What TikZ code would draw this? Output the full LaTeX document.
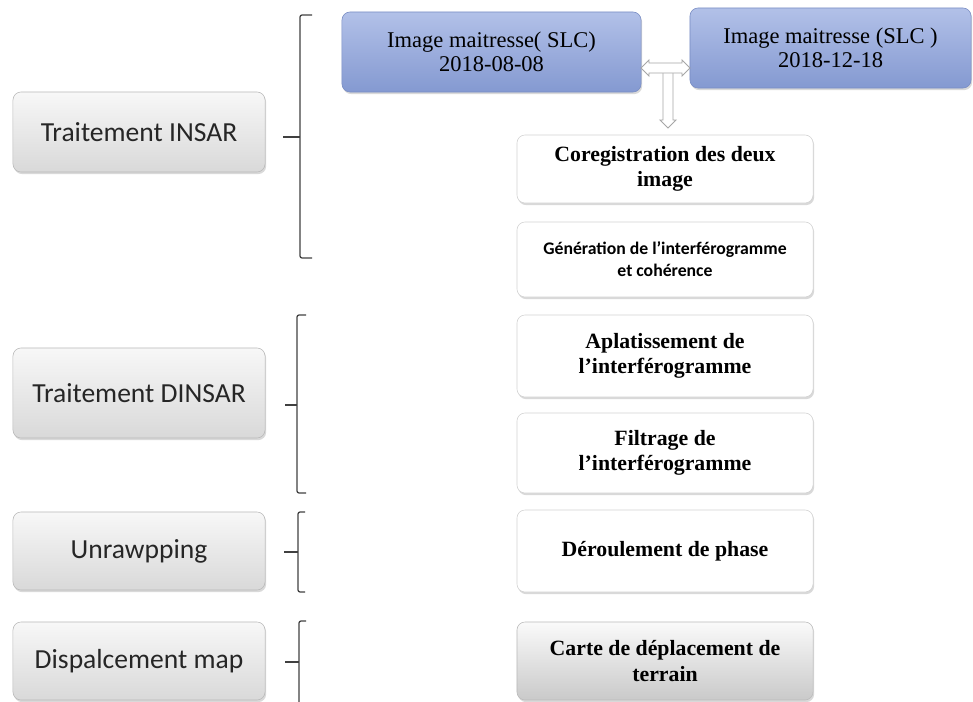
\documentclass[tikz,border=0pt]{standalone}
\usepackage{fontspec}
\setmainfont{Liberation Serif}
\newfontfamily\carlito{Carlito}
\usepackage{tikz}
\usetikzlibrary{shapes.arrows, shadows, positioning}

\definecolor{slctop}{RGB}{178,193,232}
\definecolor{slcbot}{RGB}{132,153,209}
\definecolor{slcedge}{RGB}{120,140,195}

\begin{document}
\begin{tikzpicture}[x=0.025cm, y=-0.025cm,
    box/.style={rectangle, rounded corners=0.2cm, align=center, inner sep=2pt, drop shadow={shadow xshift=0.8pt, shadow yshift=-1.5pt, opacity=0.3}},
    stage/.style={box, draw=gray!55, top color=gray!6, bottom color=gray!30, minimum width=6.3cm, font=\carlito\fontsize{19.6}{23}\selectfont, text=black!85},
    slc/.style={box, draw=slcedge, top color=slctop, bottom color=slcbot, minimum height=2cm, font=\fontsize{16}{17.5}\selectfont},
    task/.style={box, draw=gray!35, fill=white, minimum width=7.4cm, font=\bfseries\fontsize{15.5}{18}\selectfont},
    result/.style={task, draw=gray!55, top color=gray!4, bottom color=gray!42},
    brk/.style={draw=black!75, line width=0.9pt, rounded corners=1.5pt},
    hollow/.style={draw=gray!70, fill=white, line width=0.6pt, inner sep=0.09cm}
]
\useasboundingbox (0,0) rectangle (973,702);

% left column
\node[stage, minimum height=2cm] (insar) at (139,132) {Traitement INSAR};
\node[stage, minimum height=2.25cm] (dinsar) at (139,393) {Traitement DINSAR};
\node[stage, minimum height=1.95cm] (unwrap) at (139,551) {Unrawpping};
\node[stage, minimum height=1.95cm] (dispmap) at (139,661) {Dispalcement map};

% brackets
\draw[brk] (312,15) -- (300,15) -- (300,258) -- (312,258);
\draw[brk] (283,137) -- (300,137);
\draw[brk] (306,315) -- (297,315) -- (297,493) -- (306,493);
\draw[brk] (285,405) -- (297,405);
\draw[brk] (305,512) -- (298,512) -- (298,592) -- (305,592);
\draw[brk] (284,552) -- (298,552);
\draw[brk] (306,621) -- (299,621) -- (299,712);
\draw[brk] (285,662) -- (299,662);

% images
\node[slc, minimum width=7.475cm] (master1) at (491.5,52) {Image maitresse( SLC)\\2018-08-08};
\node[slc, minimum width=7.025cm] (master2) at (830.5,48) {Image maitresse (SLC )\\2018-12-18};

\node[hollow, single arrow, shape border rotate=270, minimum height=1.425cm, minimum width=0.4cm, single arrow head extend=0.06cm] (down) at (668,97) {};
\node[hollow, double arrow, minimum height=1.225cm, minimum width=0.4cm, double arrow head extend=0.06cm] (swap) at (665.5,68) {};

% right column
\node[task, minimum height=1.7cm] (coreg) at (665,169) {Coregistration des deux\\image};
\node[task, minimum height=1.875cm, font=\carlito\bfseries\fontsize{12.6}{15.5}\selectfont] (interf) at (665,259.5) {Génération de l’interférogramme\\et cohérence};
\node[task, minimum height=2.05cm] (flat) at (665,356) {Aplatissement de\\l’interférogramme};
\node[task, minimum height=2cm] (filter) at (665,453) {Filtrage de\\l’interférogramme};
\node[task, minimum height=2.05cm] (phase) at (665,551) {Déroulement de phase};
\node[result, minimum height=1.95cm] (map) at (665,661) {Carte de déplacement de\\terrain};
\end{tikzpicture}
\end{document}
